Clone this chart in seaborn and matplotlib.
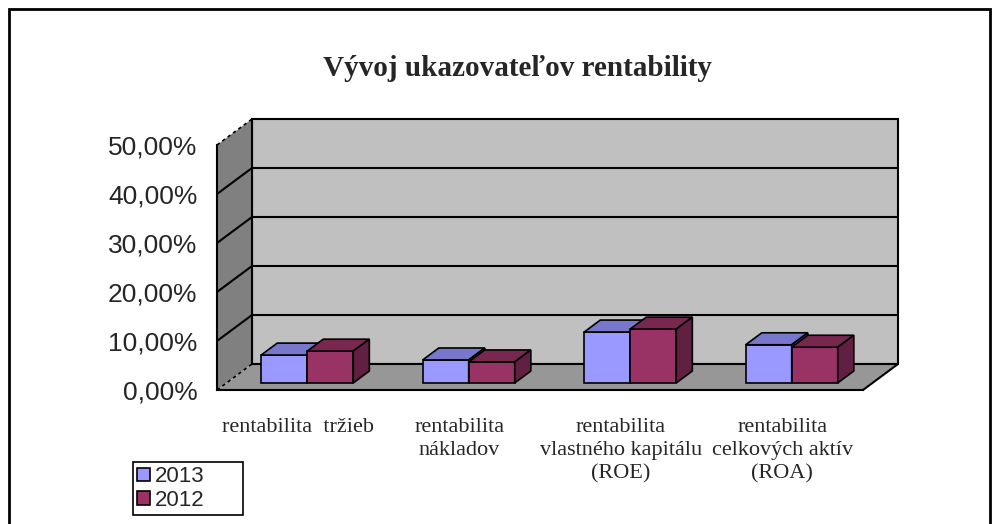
import numpy as np
import pandas as pd
import seaborn as sns
import matplotlib.pyplot as plt
from matplotlib.patches import Polygon, Rectangle, Patch

# data (percent)
kategorie = ["rentabilita  tržieb",
             "rentabilita\nnákladov",
             "rentabilita\nvlastného kapitálu\n(ROE)",
             "rentabilita\ncelkových aktív\n(ROA)"]
roky = ["2013", "2012"]
hodnoty_2013 = [5.7, 4.7, 10.4, 7.8]
hodnoty_2012 = [6.5, 4.3, 11.0, 7.3]
y_ticks = [0, 10, 20, 30, 40, 50]
y_labels = ["0,00%", "10,00%", "20,00%", "30,00%", "40,00%", "50,00%"]

farby_predok = {"2013": "#9999FF", "2012": "#993366"}
farby_vrch = {"2013": "#7777CC", "2012": "#78284F"}
farby_bok = {"2013": "#5C5CA3", "2012": "#611F41"}

df = pd.DataFrame({
    "kategoria": kategorie * 2,
    "rok": ["2013"] * 4 + ["2012"] * 4,
    "hodnota": hodnoty_2013 + hodnoty_2012,
})

sns.set_style("white")
plt.rcParams['font.family'] = ['Liberation Sans', 'DejaVu Sans']

W, H = 998, 524
fig = plt.figure(figsize=(W / 100, H / 100), dpi=100)
ax = fig.add_axes([217 / W, 1 - 390 / H, (863 - 217) / W, 245 / H])

sns.barplot(data=df, x="kategoria", y="hodnota", hue="rok", hue_order=roky,
            palette=farby_predok, width=0.57, saturation=1, edgecolor="black",
            linewidth=1.2, legend=False, ax=ax)
ax.set_xlim(-0.5, 3.5)
ax.set_ylim(0, 50)

# depth of the 3d box in data units (35 px right, 26 px up)
inv = ax.transData.inverted()
DX, DY = inv.transform((35, 26)) - inv.transform((0, 0))
f0, bd = 0.27, 0.46   # bar front position and bar depth (fraction of box depth)

x0, x1 = -0.5, 3.5
# back wall
ax.add_patch(Polygon([(x0 + DX, DY), (x1 + DX, DY), (x1 + DX, 50 + DY), (x0 + DX, 50 + DY)],
                     closed=True, facecolor="#C0C0C0", edgecolor="black", lw=1.5,
                     zorder=0.2, clip_on=False))
# side wall
ax.add_patch(Polygon([(x0, 0), (x0 + DX, DY), (x0 + DX, 50 + DY), (x0, 50)],
                     closed=True, facecolor="#808080", edgecolor="none",
                     zorder=0.3, clip_on=False))
# floor
ax.add_patch(Polygon([(x0, 0), (x1, 0), (x1 + DX, DY), (x0 + DX, DY)],
                     closed=True, facecolor="#979797", edgecolor="none",
                     zorder=0.3, clip_on=False))
ax.plot([x1, x1 + DX], [0, DY], color="black", lw=1.5, zorder=0.4, clip_on=False)
ax.plot([x0 + DX, x1 + DX], [DY, DY], color="black", lw=1.5, zorder=0.4, clip_on=False)
ax.plot([x0 + DX, x0 + DX], [DY, 50 + DY], color="black", lw=1.5, zorder=0.4, clip_on=False)
for v in y_ticks[1:-1]:
    ax.plot([x0, x0 + DX, x1 + DX], [v, v + DY, v + DY], color="black", lw=1.5,
            zorder=0.4, clip_on=False)
for v in [0, 50]:
    ax.plot([x0, x0 + DX], [v, v + DY], color="black", lw=1.2, ls=(0, (2, 2)),
            zorder=0.4, clip_on=False)

# turn the flat seaborn bars into boxes
for j, (rok, cont) in enumerate(zip(roky, ax.containers)):
    for i, rect in enumerate(cont):
        z = 3 + 0.1 * (2 * i + j)
        bx, w, h = rect.get_x() + f0 * DX, rect.get_width(), rect.get_height()
        by = f0 * DY
        rect.set_x(bx)
        rect.set_y(by)
        rect.set_zorder(z)
        rect.set_clip_on(False)
        top = [(bx, by + h), (bx + w, by + h), (bx + w + bd * DX, by + h + bd * DY),
               (bx + bd * DX, by + h + bd * DY)]
        side = [(bx + w, by), (bx + w + bd * DX, by + bd * DY),
                (bx + w + bd * DX, by + h + bd * DY), (bx + w, by + h)]
        ax.add_patch(Polygon(top, closed=True, facecolor=farby_vrch[rok], edgecolor="black",
                             lw=1.2, zorder=z, clip_on=False))
        ax.add_patch(Polygon(side, closed=True, facecolor=farby_bok[rok], edgecolor="black",
                             lw=1.2, zorder=z, clip_on=False))

for s in ["top", "right"]:
    ax.spines[s].set_visible(False)
for s in ["left", "bottom"]:
    ax.spines[s].set_color("black")
    ax.spines[s].set_linewidth(1.5)
    ax.spines[s].set_zorder(10)

ax.set_xlabel("")
ax.set_ylabel("")
ax.set_yticks(y_ticks, y_labels)
ax.tick_params(axis="y", length=8, width=1.2, color="black", pad=6, labelsize=19)
ax.set_xticks(range(len(kategorie)), kategorie)
ax.tick_params(axis="x", which="major", length=0, pad=20, labelsize=16)
ax.set_xticks([x0, x1], minor=True)
ax.tick_params(axis="x", which="minor", length=8, width=1.2, color="black")
for t in ax.get_xticklabels():
    t.set_family("Liberation Serif")
    t.set_multialignment("center")
    t.set_linespacing(1.3)

fig.text(517 / W, 1 - 68 / H, "Vývoj ukazovateľov rentability", ha="center", va="center",
         fontsize=21, fontweight="bold", family="Liberation Serif")

handles = [Patch(facecolor=farby_predok[r], edgecolor="black", lw=1.2) for r in roky]
leg = fig.legend(handles, roky, loc="upper left",
                 bbox_to_anchor=(133 / W, 1 - 512 / H, 110 / W, 50 / H), mode="expand",
                 borderaxespad=0, frameon=True, fancybox=False, framealpha=1,
                 edgecolor="black", fontsize=16, handlelength=0.55, handleheight=0.55,
                 handletextpad=0.25, borderpad=0.2, labelspacing=0.1)
leg.get_frame().set_linewidth(1.2)

fig.add_artist(Rectangle((9 / W, -0.1), (990 - 9) / W, 1 - 9 / H + 0.1,
                         transform=fig.transFigure, fill=False, lw=2, edgecolor="black"))

fig.savefig("out.png", dpi=100)
